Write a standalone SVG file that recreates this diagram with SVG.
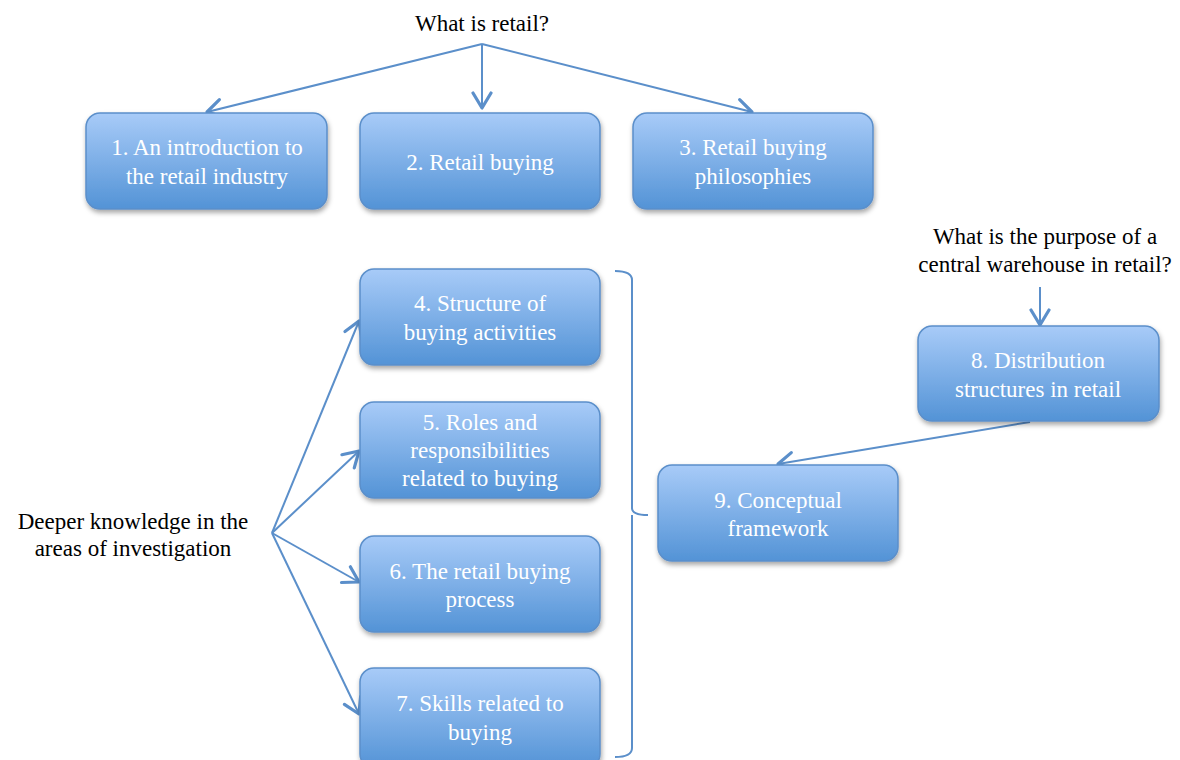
<svg xmlns="http://www.w3.org/2000/svg" width="1180" height="760" viewBox="0 0 1180 760">
<defs>
<linearGradient id="g" x1="0" y1="0" x2="0" y2="1">
<stop offset="0" stop-color="#a8cbf8"/>
<stop offset="1" stop-color="#5393d6"/>
</linearGradient>
<filter id="sh" x="-10%" y="-10%" width="125%" height="130%">
<feDropShadow dx="1" dy="3" stdDeviation="2.5" flood-color="#000" flood-opacity="0.35"/>
</filter>
<marker id="ah" viewBox="0 0 22 22" refX="19" refY="11" markerWidth="22" markerHeight="22" markerUnits="userSpaceOnUse" orient="auto">
<path d="M4,2 L19,11 L4,20" fill="none" stroke="#5b8fca" stroke-width="3.2" stroke-linecap="round" stroke-linejoin="round"/>
</marker>
</defs>
<style>
.box{fill:url(#g);stroke:#5b8fca;stroke-width:1.5;filter:url(#sh)}
text{font-family:'Liberation Serif','Times New Roman',Tinos,'DejaVu Serif',serif;font-size:23px;text-anchor:middle}
.bt{fill:#fff}
.lt{fill:#000}
.c{stroke:#5b8fca;stroke-width:2;fill:none}
.ca{stroke:#5b8fca;stroke-width:2;fill:none;marker-end:url(#ah)}
</style>
<rect width="1180" height="760" fill="#fff"/>
<g id="labels">
<text class="lt" x="482" y="31">What is retail?</text>
<text class="lt" x="133" y="529">Deeper knowledge in the</text>
<text class="lt" x="133" y="556">areas of investigation</text>
<text class="lt" x="1045" y="244">What is the purpose of a</text>
<text class="lt" x="1045" y="272">central warehouse in retail?</text>
</g>
<g id="connectors">
<line class="ca" x1="482" y1="44" x2="207" y2="112"/>
<line class="ca" x1="482" y1="44" x2="482" y2="108"/>
<line class="ca" x1="482" y1="44" x2="752" y2="112"/>
<line class="ca" x1="272" y1="533" x2="359" y2="321"/>
<line class="ca" x1="272" y1="533" x2="359" y2="451"/>
<line class="ca" x1="272" y1="533" x2="359" y2="582"/>
<line class="ca" x1="272" y1="533" x2="359" y2="714"/>
<line class="ca" x1="1040" y1="287" x2="1040" y2="325"/>
<line class="ca" x1="1030" y1="422" x2="778" y2="464"/>
<path class="c" d="M615,271 Q632,271 632,280 L632,508 Q632,515 648,515 M632,515 Q632,522 632,530 L632,748 Q632,757 615,757"/>
</g>
<g id="n1"><rect class="box" x="86" y="113" width="241" height="96" rx="14"/><text class="bt" x="207" y="155">1. An introduction to</text><text class="bt" x="207" y="184">the retail industry</text></g>
<g id="n2"><rect class="box" x="360" y="113" width="240" height="96" rx="14"/><text class="bt" x="480" y="170">2. Retail buying</text></g>
<g id="n3"><rect class="box" x="633" y="113" width="240" height="96" rx="14"/><text class="bt" x="753" y="155">3. Retail buying</text><text class="bt" x="753" y="184">philosophies</text></g>
<g id="n4"><rect class="box" x="360" y="269" width="240" height="96" rx="14"/><text class="bt" x="480" y="311">4. Structure of</text><text class="bt" x="480" y="340">buying activities</text></g>
<g id="n5"><rect class="box" x="360" y="402" width="240" height="96" rx="14"/><text class="bt" x="480" y="430">5. Roles and</text><text class="bt" x="480" y="458">responsibilities</text><text class="bt" x="480" y="486">related to buying</text></g>
<g id="n6"><rect class="box" x="360" y="536" width="240" height="96" rx="14"/><text class="bt" x="480" y="579">6. The retail buying</text><text class="bt" x="480" y="607">process</text></g>
<g id="n7"><rect class="box" x="360" y="668" width="240" height="100" rx="14"/><text class="bt" x="480" y="711">7. Skills related to</text><text class="bt" x="480" y="740">buying</text></g>
<g id="n8"><rect class="box" x="918" y="326" width="241" height="95" rx="14"/><text class="bt" x="1038" y="368">8. Distribution</text><text class="bt" x="1038" y="397">structures in retail</text></g>
<g id="n9"><rect class="box" x="658" y="465" width="240" height="96" rx="14"/><text class="bt" x="778" y="508">9. Conceptual</text><text class="bt" x="778" y="536">framework</text></g>
</svg>
